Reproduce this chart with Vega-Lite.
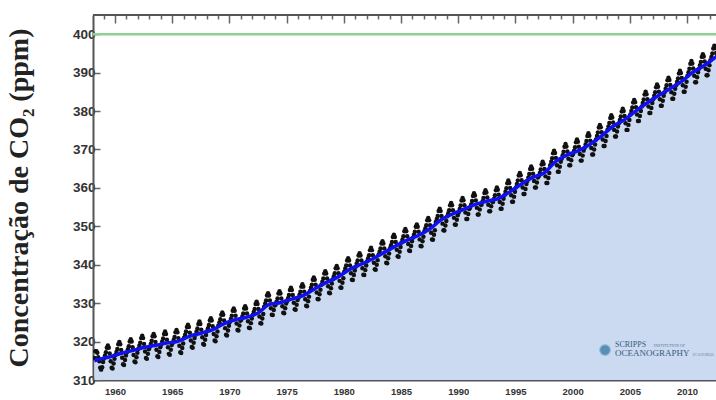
{
  "$schema": "https://vega.github.io/schema/vega-lite/v6.json",
  "width": 623,
  "height": 365,
  "autosize": {"type": "none"},
  "padding": {"left": 93, "top": 15, "right": 0, "bottom": 20},
  "background": "white",
  "config": {"view": {"stroke": null}},
  "data": {"values": [{}]},
  "datasets": {
    "trend": [
      {"t":1958.2,"v":315.0},{"t":1958.5,"v":315.3},{"t":1959.5,"v":315.98},{"t":1960.5,"v":316.91},{"t":1961.5,"v":317.64},{"t":1962.5,"v":318.45},{"t":1963.5,"v":318.99},{"t":1964.5,"v":319.62},{"t":1965.5,"v":320.04},{"t":1966.5,"v":321.37},{"t":1967.5,"v":322.18},{"t":1968.5,"v":323.05},{"t":1969.5,"v":324.62},{"t":1970.5,"v":325.68},{"t":1971.5,"v":326.32},{"t":1972.5,"v":327.46},{"t":1973.5,"v":329.68},{"t":1974.5,"v":330.19},{"t":1975.5,"v":331.13},{"t":1976.5,"v":332.03},{"t":1977.5,"v":333.84},{"t":1978.5,"v":335.41},{"t":1979.5,"v":336.84},{"t":1980.5,"v":338.76},{"t":1981.5,"v":340.12},{"t":1982.5,"v":341.48},{"t":1983.5,"v":343.15},{"t":1984.5,"v":344.85},{"t":1985.5,"v":346.35},{"t":1986.5,"v":347.61},{"t":1987.5,"v":349.31},{"t":1988.5,"v":351.69},{"t":1989.5,"v":353.2},{"t":1990.5,"v":354.45},{"t":1991.5,"v":355.7},{"t":1992.5,"v":356.54},{"t":1993.5,"v":357.21},{"t":1994.5,"v":358.96},{"t":1995.5,"v":360.97},{"t":1996.5,"v":362.74},{"t":1997.5,"v":363.88},{"t":1998.5,"v":366.84},{"t":1999.5,"v":368.54},{"t":2000.5,"v":369.71},{"t":2001.5,"v":371.32},{"t":2002.5,"v":373.45},{"t":2003.5,"v":375.98},{"t":2004.5,"v":377.7},{"t":2005.5,"v":379.98},{"t":2006.5,"v":382.09},{"t":2007.5,"v":384.02},{"t":2008.5,"v":385.83},{"t":2009.5,"v":387.64},{"t":2010.5,"v":390.1},{"t":2011.5,"v":391.85},{"t":2012.5,"v":394.06},{"t":2012.6,"v":394.3}
    ],
    "monthly": [
      {"t":1958.21,"v":315.7},{"t":1958.29,"v":317.5},{"t":1958.38,"v":317.5},{"t":1958.46,"v":317.1},{"t":1958.54,"v":315.9},{"t":1958.63,"v":314.9},{"t":1958.71,"v":313.2},{"t":1958.79,"v":312.7},{"t":1958.88,"v":313.3},{"t":1958.96,"v":314.7},
      {"t":1959.04,"v":315.6},{"t":1959.13,"v":316.4},{"t":1959.21,"v":317.2},{"t":1959.29,"v":318.4},{"t":1959.38,"v":319.0},{"t":1959.46,"v":318.4},{"t":1959.54,"v":316.9},{"t":1959.63,"v":314.9},{"t":1959.71,"v":313.2},{"t":1959.79,"v":313.0},{"t":1959.88,"v":314.3},{"t":1959.96,"v":315.5},
      {"t":1960.04,"v":316.5},{"t":1960.13,"v":317.3},{"t":1960.21,"v":318.1},{"t":1960.29,"v":319.3},{"t":1960.38,"v":319.9},{"t":1960.46,"v":319.3},{"t":1960.54,"v":317.8},{"t":1960.63,"v":315.8},{"t":1960.71,"v":314.1},{"t":1960.79,"v":313.9},{"t":1960.88,"v":315.2},{"t":1960.96,"v":316.4},
      {"t":1961.04,"v":317.2},{"t":1961.13,"v":318.0},{"t":1961.21,"v":318.8},{"t":1961.29,"v":320.0},{"t":1961.38,"v":320.6},{"t":1961.46,"v":320.0},{"t":1961.54,"v":318.5},{"t":1961.63,"v":316.5},{"t":1961.71,"v":314.8},{"t":1961.79,"v":314.6},{"t":1961.88,"v":315.9},{"t":1961.96,"v":317.1},
      {"t":1962.04,"v":318.1},{"t":1962.13,"v":318.9},{"t":1962.21,"v":319.7},{"t":1962.29,"v":320.9},{"t":1962.38,"v":321.5},{"t":1962.46,"v":320.9},{"t":1962.54,"v":319.4},{"t":1962.63,"v":317.4},{"t":1962.71,"v":315.7},{"t":1962.79,"v":315.5},{"t":1962.88,"v":316.8},{"t":1962.96,"v":318.0},
      {"t":1963.04,"v":318.6},{"t":1963.13,"v":319.4},{"t":1963.21,"v":320.2},{"t":1963.29,"v":321.4},{"t":1963.38,"v":322.0},{"t":1963.46,"v":321.4},{"t":1963.54,"v":319.9},{"t":1963.63,"v":317.9},{"t":1963.71,"v":316.2},{"t":1963.79,"v":316.0},{"t":1963.88,"v":317.3},{"t":1963.96,"v":318.5},
      {"t":1964.04,"v":319.2},{"t":1964.13,"v":320.0},{"t":1964.21,"v":320.8},{"t":1964.29,"v":322.0},{"t":1964.38,"v":322.6},{"t":1964.46,"v":322.0},{"t":1964.54,"v":320.5},{"t":1964.63,"v":318.5},{"t":1964.71,"v":316.8},{"t":1964.79,"v":316.6},{"t":1964.88,"v":317.9},{"t":1964.96,"v":319.1},
      {"t":1965.04,"v":319.6},{"t":1965.13,"v":320.4},{"t":1965.21,"v":321.2},{"t":1965.29,"v":322.4},{"t":1965.38,"v":323.0},{"t":1965.46,"v":322.4},{"t":1965.54,"v":320.9},{"t":1965.63,"v":318.9},{"t":1965.71,"v":317.2},{"t":1965.79,"v":317.0},{"t":1965.88,"v":318.3},{"t":1965.96,"v":319.5},
      {"t":1966.04,"v":321.0},{"t":1966.13,"v":321.8},{"t":1966.21,"v":322.6},{"t":1966.29,"v":323.8},{"t":1966.38,"v":324.4},{"t":1966.46,"v":323.8},{"t":1966.54,"v":322.3},{"t":1966.63,"v":320.3},{"t":1966.71,"v":318.6},{"t":1966.79,"v":318.4},{"t":1966.88,"v":319.7},{"t":1966.96,"v":320.9},
      {"t":1967.04,"v":321.8},{"t":1967.13,"v":322.6},{"t":1967.21,"v":323.4},{"t":1967.29,"v":324.6},{"t":1967.38,"v":325.2},{"t":1967.46,"v":324.6},{"t":1967.54,"v":323.1},{"t":1967.63,"v":321.1},{"t":1967.71,"v":319.4},{"t":1967.79,"v":319.2},{"t":1967.88,"v":320.5},{"t":1967.96,"v":321.7},
      {"t":1968.04,"v":322.7},{"t":1968.13,"v":323.5},{"t":1968.21,"v":324.3},{"t":1968.29,"v":325.5},{"t":1968.38,"v":326.1},{"t":1968.46,"v":325.5},{"t":1968.54,"v":324.0},{"t":1968.63,"v":322.0},{"t":1968.71,"v":320.3},{"t":1968.79,"v":320.1},{"t":1968.88,"v":321.4},{"t":1968.96,"v":322.6},
      {"t":1969.04,"v":324.2},{"t":1969.13,"v":325.0},{"t":1969.21,"v":325.8},{"t":1969.29,"v":327.0},{"t":1969.38,"v":327.6},{"t":1969.46,"v":327.0},{"t":1969.54,"v":325.5},{"t":1969.63,"v":323.5},{"t":1969.71,"v":321.8},{"t":1969.79,"v":321.6},{"t":1969.88,"v":322.9},{"t":1969.96,"v":324.1},
      {"t":1970.04,"v":325.1},{"t":1970.13,"v":325.9},{"t":1970.21,"v":326.7},{"t":1970.29,"v":328.0},{"t":1970.38,"v":328.6},{"t":1970.46,"v":328.0},{"t":1970.54,"v":326.7},{"t":1970.63,"v":324.7},{"t":1970.71,"v":323.0},{"t":1970.79,"v":322.9},{"t":1970.88,"v":324.2},{"t":1970.96,"v":325.4},
      {"t":1971.04,"v":325.7},{"t":1971.13,"v":326.5},{"t":1971.21,"v":327.3},{"t":1971.29,"v":328.6},{"t":1971.38,"v":329.2},{"t":1971.46,"v":328.6},{"t":1971.54,"v":327.3},{"t":1971.63,"v":325.3},{"t":1971.71,"v":323.6},{"t":1971.79,"v":323.5},{"t":1971.88,"v":324.8},{"t":1971.96,"v":326.0},
      {"t":1972.04,"v":326.9},{"t":1972.13,"v":327.7},{"t":1972.21,"v":328.5},{"t":1972.29,"v":329.8},{"t":1972.38,"v":330.4},{"t":1972.46,"v":329.8},{"t":1972.54,"v":328.5},{"t":1972.63,"v":326.5},{"t":1972.71,"v":324.8},{"t":1972.79,"v":324.7},{"t":1972.88,"v":326.0},{"t":1972.96,"v":327.2},
      {"t":1973.04,"v":329.1},{"t":1973.13,"v":329.9},{"t":1973.21,"v":330.7},{"t":1973.29,"v":332.0},{"t":1973.38,"v":332.6},{"t":1973.46,"v":332.0},{"t":1973.54,"v":330.7},{"t":1973.63,"v":328.7},{"t":1973.71,"v":327.0},{"t":1973.79,"v":326.9},{"t":1973.88,"v":328.2},{"t":1973.96,"v":329.4},
      {"t":1974.04,"v":329.6},{"t":1974.13,"v":330.4},{"t":1974.21,"v":331.2},{"t":1974.29,"v":332.5},{"t":1974.38,"v":333.1},{"t":1974.46,"v":332.5},{"t":1974.54,"v":331.2},{"t":1974.63,"v":329.2},{"t":1974.71,"v":327.5},{"t":1974.79,"v":327.4},{"t":1974.88,"v":328.7},{"t":1974.96,"v":329.9},
      {"t":1975.04,"v":330.5},{"t":1975.13,"v":331.3},{"t":1975.21,"v":332.1},{"t":1975.29,"v":333.4},{"t":1975.38,"v":334.0},{"t":1975.46,"v":333.4},{"t":1975.54,"v":332.1},{"t":1975.63,"v":330.1},{"t":1975.71,"v":328.4},{"t":1975.79,"v":328.3},{"t":1975.88,"v":329.6},{"t":1975.96,"v":330.8},
      {"t":1976.04,"v":331.4},{"t":1976.13,"v":332.2},{"t":1976.21,"v":333.0},{"t":1976.29,"v":334.3},{"t":1976.38,"v":334.9},{"t":1976.46,"v":334.3},{"t":1976.54,"v":333.0},{"t":1976.63,"v":331.0},{"t":1976.71,"v":329.3},{"t":1976.79,"v":329.2},{"t":1976.88,"v":330.5},{"t":1976.96,"v":331.7},
      {"t":1977.04,"v":333.2},{"t":1977.13,"v":334.0},{"t":1977.21,"v":334.8},{"t":1977.29,"v":336.1},{"t":1977.38,"v":336.7},{"t":1977.46,"v":336.1},{"t":1977.54,"v":334.8},{"t":1977.63,"v":332.8},{"t":1977.71,"v":331.1},{"t":1977.79,"v":331.0},{"t":1977.88,"v":332.3},{"t":1977.96,"v":333.5},
      {"t":1978.04,"v":334.8},{"t":1978.13,"v":335.6},{"t":1978.21,"v":336.4},{"t":1978.29,"v":337.7},{"t":1978.38,"v":338.3},{"t":1978.46,"v":337.7},{"t":1978.54,"v":336.4},{"t":1978.63,"v":334.4},{"t":1978.71,"v":332.7},{"t":1978.79,"v":332.6},{"t":1978.88,"v":333.9},{"t":1978.96,"v":335.1},
      {"t":1979.04,"v":336.2},{"t":1979.13,"v":337.0},{"t":1979.21,"v":337.8},{"t":1979.29,"v":339.1},{"t":1979.38,"v":339.7},{"t":1979.46,"v":339.1},{"t":1979.54,"v":337.8},{"t":1979.63,"v":335.8},{"t":1979.71,"v":334.1},{"t":1979.79,"v":334.0},{"t":1979.88,"v":335.3},{"t":1979.96,"v":336.5},
      {"t":1980.04,"v":338.2},{"t":1980.13,"v":339.0},{"t":1980.21,"v":339.8},{"t":1980.29,"v":341.1},{"t":1980.38,"v":341.7},{"t":1980.46,"v":341.1},{"t":1980.54,"v":339.8},{"t":1980.63,"v":337.8},{"t":1980.71,"v":336.1},{"t":1980.79,"v":336.0},{"t":1980.88,"v":337.3},{"t":1980.96,"v":338.5},
      {"t":1981.04,"v":339.5},{"t":1981.13,"v":340.3},{"t":1981.21,"v":341.1},{"t":1981.29,"v":342.4},{"t":1981.38,"v":343.0},{"t":1981.46,"v":342.4},{"t":1981.54,"v":341.1},{"t":1981.63,"v":339.1},{"t":1981.71,"v":337.4},{"t":1981.79,"v":337.3},{"t":1981.88,"v":338.6},{"t":1981.96,"v":339.8},
      {"t":1982.04,"v":340.9},{"t":1982.13,"v":341.7},{"t":1982.21,"v":342.5},{"t":1982.29,"v":343.8},{"t":1982.38,"v":344.4},{"t":1982.46,"v":343.8},{"t":1982.54,"v":342.5},{"t":1982.63,"v":340.5},{"t":1982.71,"v":338.8},{"t":1982.79,"v":338.7},{"t":1982.88,"v":340.0},{"t":1982.96,"v":341.2},
      {"t":1983.04,"v":342.6},{"t":1983.13,"v":343.4},{"t":1983.21,"v":344.2},{"t":1983.29,"v":345.5},{"t":1983.38,"v":346.1},{"t":1983.46,"v":345.5},{"t":1983.54,"v":344.2},{"t":1983.63,"v":342.2},{"t":1983.71,"v":340.5},{"t":1983.79,"v":340.4},{"t":1983.88,"v":341.7},{"t":1983.96,"v":342.9},
      {"t":1984.04,"v":344.3},{"t":1984.13,"v":345.1},{"t":1984.21,"v":345.9},{"t":1984.29,"v":347.2},{"t":1984.38,"v":347.8},{"t":1984.46,"v":347.2},{"t":1984.54,"v":345.9},{"t":1984.63,"v":343.9},{"t":1984.71,"v":342.2},{"t":1984.79,"v":342.1},{"t":1984.88,"v":343.4},{"t":1984.96,"v":344.6},
      {"t":1985.04,"v":345.8},{"t":1985.13,"v":346.6},{"t":1985.21,"v":347.4},{"t":1985.29,"v":348.7},{"t":1985.38,"v":349.3},{"t":1985.46,"v":348.7},{"t":1985.54,"v":347.4},{"t":1985.63,"v":345.4},{"t":1985.71,"v":343.7},{"t":1985.79,"v":343.6},{"t":1985.88,"v":344.9},{"t":1985.96,"v":346.1},
      {"t":1986.04,"v":347.0},{"t":1986.13,"v":347.8},{"t":1986.21,"v":348.6},{"t":1986.29,"v":349.9},{"t":1986.38,"v":350.5},{"t":1986.46,"v":349.9},{"t":1986.54,"v":348.6},{"t":1986.63,"v":346.6},{"t":1986.71,"v":344.9},{"t":1986.79,"v":344.8},{"t":1986.88,"v":346.1},{"t":1986.96,"v":347.3},
      {"t":1987.04,"v":348.7},{"t":1987.13,"v":349.5},{"t":1987.21,"v":350.3},{"t":1987.29,"v":351.6},{"t":1987.38,"v":352.2},{"t":1987.46,"v":351.6},{"t":1987.54,"v":350.3},{"t":1987.63,"v":348.3},{"t":1987.71,"v":346.6},{"t":1987.79,"v":346.5},{"t":1987.88,"v":347.8},{"t":1987.96,"v":349.0},
      {"t":1988.04,"v":351.1},{"t":1988.13,"v":351.9},{"t":1988.21,"v":352.7},{"t":1988.29,"v":354.0},{"t":1988.38,"v":354.6},{"t":1988.46,"v":354.0},{"t":1988.54,"v":352.7},{"t":1988.63,"v":350.7},{"t":1988.71,"v":349.0},{"t":1988.79,"v":348.9},{"t":1988.88,"v":350.2},{"t":1988.96,"v":351.4},
      {"t":1989.04,"v":352.6},{"t":1989.13,"v":353.4},{"t":1989.21,"v":354.2},{"t":1989.29,"v":355.5},{"t":1989.38,"v":356.1},{"t":1989.46,"v":355.5},{"t":1989.54,"v":354.2},{"t":1989.63,"v":352.2},{"t":1989.71,"v":350.5},{"t":1989.79,"v":350.4},{"t":1989.88,"v":351.7},{"t":1989.96,"v":352.9},
      {"t":1990.04,"v":353.6},{"t":1990.13,"v":354.5},{"t":1990.21,"v":355.4},{"t":1990.29,"v":356.7},{"t":1990.38,"v":357.4},{"t":1990.46,"v":356.8},{"t":1990.54,"v":355.5},{"t":1990.63,"v":353.6},{"t":1990.71,"v":351.9},{"t":1990.79,"v":351.9},{"t":1990.88,"v":353.2},{"t":1990.96,"v":354.5},
      {"t":1991.04,"v":354.8},{"t":1991.13,"v":355.7},{"t":1991.21,"v":356.6},{"t":1991.29,"v":357.9},{"t":1991.38,"v":358.6},{"t":1991.46,"v":358.0},{"t":1991.54,"v":356.7},{"t":1991.63,"v":354.8},{"t":1991.71,"v":353.1},{"t":1991.79,"v":353.1},{"t":1991.88,"v":354.4},{"t":1991.96,"v":355.7},
      {"t":1992.04,"v":355.6},{"t":1992.13,"v":356.5},{"t":1992.21,"v":357.4},{"t":1992.29,"v":358.7},{"t":1992.38,"v":359.4},{"t":1992.46,"v":358.8},{"t":1992.54,"v":357.5},{"t":1992.63,"v":355.6},{"t":1992.71,"v":353.9},{"t":1992.79,"v":353.9},{"t":1992.88,"v":355.2},{"t":1992.96,"v":356.5},
      {"t":1993.04,"v":356.3},{"t":1993.13,"v":357.2},{"t":1993.21,"v":358.1},{"t":1993.29,"v":359.4},{"t":1993.38,"v":360.1},{"t":1993.46,"v":359.5},{"t":1993.54,"v":358.2},{"t":1993.63,"v":356.3},{"t":1993.71,"v":354.6},{"t":1993.79,"v":354.6},{"t":1993.88,"v":355.9},{"t":1993.96,"v":357.2},
      {"t":1994.04,"v":358.1},{"t":1994.13,"v":359.0},{"t":1994.21,"v":359.9},{"t":1994.29,"v":361.2},{"t":1994.38,"v":361.9},{"t":1994.46,"v":361.3},{"t":1994.54,"v":360.0},{"t":1994.63,"v":358.1},{"t":1994.71,"v":356.4},{"t":1994.79,"v":356.4},{"t":1994.88,"v":357.7},{"t":1994.96,"v":359.0},
      {"t":1995.04,"v":360.1},{"t":1995.13,"v":361.0},{"t":1995.21,"v":361.9},{"t":1995.29,"v":363.2},{"t":1995.38,"v":363.9},{"t":1995.46,"v":363.3},{"t":1995.54,"v":362.0},{"t":1995.63,"v":360.1},{"t":1995.71,"v":358.4},{"t":1995.79,"v":358.4},{"t":1995.88,"v":359.7},{"t":1995.96,"v":361.0},
      {"t":1996.04,"v":361.8},{"t":1996.13,"v":362.7},{"t":1996.21,"v":363.6},{"t":1996.29,"v":364.9},{"t":1996.38,"v":365.6},{"t":1996.46,"v":365.0},{"t":1996.54,"v":363.7},{"t":1996.63,"v":361.8},{"t":1996.71,"v":360.1},{"t":1996.79,"v":360.1},{"t":1996.88,"v":361.4},{"t":1996.96,"v":362.7},
      {"t":1997.04,"v":363.0},{"t":1997.13,"v":363.9},{"t":1997.21,"v":364.8},{"t":1997.29,"v":366.1},{"t":1997.38,"v":366.8},{"t":1997.46,"v":366.2},{"t":1997.54,"v":364.9},{"t":1997.63,"v":363.0},{"t":1997.71,"v":361.3},{"t":1997.79,"v":361.3},{"t":1997.88,"v":362.6},{"t":1997.96,"v":363.9},
      {"t":1998.04,"v":365.9},{"t":1998.13,"v":366.8},{"t":1998.21,"v":367.7},{"t":1998.29,"v":369.0},{"t":1998.38,"v":369.7},{"t":1998.46,"v":369.1},{"t":1998.54,"v":367.8},{"t":1998.63,"v":365.9},{"t":1998.71,"v":364.2},{"t":1998.79,"v":364.2},{"t":1998.88,"v":365.5},{"t":1998.96,"v":366.8},
      {"t":1999.04,"v":367.6},{"t":1999.13,"v":368.5},{"t":1999.21,"v":369.4},{"t":1999.29,"v":370.7},{"t":1999.38,"v":371.4},{"t":1999.46,"v":370.8},{"t":1999.54,"v":369.5},{"t":1999.63,"v":367.6},{"t":1999.71,"v":365.9},{"t":1999.79,"v":365.9},{"t":1999.88,"v":367.2},{"t":1999.96,"v":368.5},
      {"t":2000.04,"v":368.8},{"t":2000.13,"v":369.7},{"t":2000.21,"v":370.6},{"t":2000.29,"v":371.9},{"t":2000.38,"v":372.6},{"t":2000.46,"v":372.0},{"t":2000.54,"v":370.7},{"t":2000.63,"v":368.8},{"t":2000.71,"v":367.1},{"t":2000.79,"v":367.1},{"t":2000.88,"v":368.4},{"t":2000.96,"v":369.7},
      {"t":2001.04,"v":370.4},{"t":2001.13,"v":371.3},{"t":2001.21,"v":372.2},{"t":2001.29,"v":373.5},{"t":2001.38,"v":374.2},{"t":2001.46,"v":373.6},{"t":2001.54,"v":372.3},{"t":2001.63,"v":370.4},{"t":2001.71,"v":368.7},{"t":2001.79,"v":368.7},{"t":2001.88,"v":370.0},{"t":2001.96,"v":371.3},
      {"t":2002.04,"v":372.6},{"t":2002.13,"v":373.5},{"t":2002.21,"v":374.4},{"t":2002.29,"v":375.7},{"t":2002.38,"v":376.4},{"t":2002.46,"v":375.8},{"t":2002.54,"v":374.5},{"t":2002.63,"v":372.6},{"t":2002.71,"v":370.9},{"t":2002.79,"v":370.9},{"t":2002.88,"v":372.2},{"t":2002.96,"v":373.5},
      {"t":2003.04,"v":375.1},{"t":2003.13,"v":376.0},{"t":2003.21,"v":376.9},{"t":2003.29,"v":378.2},{"t":2003.38,"v":378.9},{"t":2003.46,"v":378.3},{"t":2003.54,"v":377.0},{"t":2003.63,"v":375.1},{"t":2003.71,"v":373.4},{"t":2003.79,"v":373.4},{"t":2003.88,"v":374.7},{"t":2003.96,"v":376.0},
      {"t":2004.04,"v":376.8},{"t":2004.13,"v":377.7},{"t":2004.21,"v":378.6},{"t":2004.29,"v":379.9},{"t":2004.38,"v":380.6},{"t":2004.46,"v":380.0},{"t":2004.54,"v":378.7},{"t":2004.63,"v":376.8},{"t":2004.71,"v":375.1},{"t":2004.79,"v":375.1},{"t":2004.88,"v":376.4},{"t":2004.96,"v":377.7},
      {"t":2005.04,"v":379.1},{"t":2005.13,"v":380.0},{"t":2005.21,"v":380.9},{"t":2005.29,"v":382.2},{"t":2005.38,"v":382.9},{"t":2005.46,"v":382.3},{"t":2005.54,"v":381.0},{"t":2005.63,"v":379.1},{"t":2005.71,"v":377.4},{"t":2005.79,"v":377.4},{"t":2005.88,"v":378.7},{"t":2005.96,"v":380.0},
      {"t":2006.04,"v":381.2},{"t":2006.13,"v":382.1},{"t":2006.21,"v":383.0},{"t":2006.29,"v":384.3},{"t":2006.38,"v":385.0},{"t":2006.46,"v":384.4},{"t":2006.54,"v":383.1},{"t":2006.63,"v":381.2},{"t":2006.71,"v":379.5},{"t":2006.79,"v":379.5},{"t":2006.88,"v":380.8},{"t":2006.96,"v":382.1},
      {"t":2007.04,"v":383.1},{"t":2007.13,"v":384.0},{"t":2007.21,"v":384.9},{"t":2007.29,"v":386.2},{"t":2007.38,"v":386.9},{"t":2007.46,"v":386.3},{"t":2007.54,"v":385.0},{"t":2007.63,"v":383.1},{"t":2007.71,"v":381.4},{"t":2007.79,"v":381.4},{"t":2007.88,"v":382.7},{"t":2007.96,"v":384.0},
      {"t":2008.04,"v":384.9},{"t":2008.13,"v":385.8},{"t":2008.21,"v":386.7},{"t":2008.29,"v":388.0},{"t":2008.38,"v":388.7},{"t":2008.46,"v":388.1},{"t":2008.54,"v":386.8},{"t":2008.63,"v":384.9},{"t":2008.71,"v":383.2},{"t":2008.79,"v":383.2},{"t":2008.88,"v":384.5},{"t":2008.96,"v":385.8},
      {"t":2009.04,"v":386.7},{"t":2009.13,"v":387.6},{"t":2009.21,"v":388.5},{"t":2009.29,"v":389.8},{"t":2009.38,"v":390.5},{"t":2009.46,"v":389.9},{"t":2009.54,"v":388.6},{"t":2009.63,"v":386.7},{"t":2009.71,"v":385.0},{"t":2009.79,"v":385.0},{"t":2009.88,"v":386.3},{"t":2009.96,"v":387.6},
      {"t":2010.04,"v":389.2},{"t":2010.13,"v":390.1},{"t":2010.21,"v":391.0},{"t":2010.29,"v":392.3},{"t":2010.38,"v":393.0},{"t":2010.46,"v":392.4},{"t":2010.54,"v":391.1},{"t":2010.63,"v":389.2},{"t":2010.71,"v":387.5},{"t":2010.79,"v":387.5},{"t":2010.88,"v":388.8},{"t":2010.96,"v":390.1},
      {"t":2011.04,"v":391.0},{"t":2011.13,"v":391.9},{"t":2011.21,"v":392.8},{"t":2011.29,"v":394.1},{"t":2011.38,"v":394.8},{"t":2011.46,"v":394.2},{"t":2011.54,"v":392.9},{"t":2011.63,"v":391.0},{"t":2011.71,"v":389.3},{"t":2011.79,"v":389.3},{"t":2011.88,"v":390.6},{"t":2011.96,"v":391.9},
      {"t":2012.04,"v":393.2},{"t":2012.13,"v":394.1},{"t":2012.21,"v":395.0},{"t":2012.29,"v":396.3},{"t":2012.38,"v":397.0},{"t":2012.46,"v":396.4},{"t":2012.54,"v":395.1}
    ]
  },
  "layer": [
    {
      "data": {"name": "trend"},
      "mark": {"type": "area", "color": "#cbdaf0", "clip": true},
      "encoding": {
        "x": {"field": "t", "type": "quantitative", "scale": {"domain": [1958.08, 2012.53], "nice": false, "zero": false},
          "axis": {"orient": "bottom", "title": null, "values": [1959,1960,1961,1962,1963,1964,1965,1966,1967,1968,1969,1970,1971,1972,1973,1974,1975,1976,1977,1978,1979,1980,1981,1982,1983,1984,1985,1986,1987,1988,1989,1990,1991,1992,1993,1994,1995,1996,1997,1998,1999,2000,2001,2002,2003,2004,2005,2006,2007,2008,2009,2010,2011,2012],
            "format": "d", "labelExpr": "datum.value % 5 === 0 ? datum.label : ''",
            "grid": false, "domainColor": "#555555", "domainWidth": 2, "tickColor": "#666666", "tickWidth": 1.5,
            "tickSize": {"condition": {"test": "datum.value % 5 === 0", "value": -8}, "value": -4},
            "labelFont": "Liberation Sans", "labelFontSize": 9.5, "labelFontWeight": "bold", "labelColor": "#333333", "labelPadding": 14, "labelFlush": false, "labelOverlap": false}},
        "y": {"field": "v", "type": "quantitative", "scale": {"domain": [310, 405], "nice": false, "zero": false},
          "axis": {"title": "Concentração de CO₂ (ppm)", "titleFont": "Liberation Serif", "titleFontSize": 28, "titleFontWeight": "bold", "titleColor": "#222222", "titlePadding": 39,
            "values": [310,315,320,325,330,335,340,345,350,355,360,365,370,375,380,385,390,395,400],
            "labelExpr": "datum.value % 10 === 0 ? datum.label : ''",
            "grid": false, "domainColor": "#555555", "domainWidth": 2, "tickColor": "#666666", "tickWidth": 1.5,
            "tickSize": {"condition": {"test": "datum.value % 10 === 0", "value": -7}, "value": -4},
            "labelFont": "Liberation Sans", "labelFontSize": 13.5, "labelFontWeight": "bold", "labelColor": "#333333", "labelPadding": 5, "labelOverlap": false}},
        "y2": {"datum": 310}
      }
    },
    {
      "mark": {"type": "rule", "color": "#8fd18f", "strokeWidth": 2.5},
      "encoding": {"y": {"datum": 400}}
    },
    {
      "mark": {"type": "rule", "color": "#555555", "strokeWidth": 2},
      "encoding": {"y": {"datum": 405}}
    },
    {
      "data": {"name": "monthly"},
      "mark": {"type": "point", "filled": true, "color": "#111111", "size": 20, "opacity": 1, "clip": true},
      "encoding": {
        "x": {"field": "t", "type": "quantitative", "axis": null},
        "y": {"field": "v", "type": "quantitative"}
      }
    },
    {
      "data": {"name": "trend"},
      "mark": {"type": "line", "color": "#1010f0", "strokeWidth": 3.5, "interpolate": "monotone", "clip": true},
      "encoding": {
        "x": {"field": "t", "type": "quantitative",
          "axis": {"orient": "top", "title": null, "labels": false, "domain": false, "offset": -8, "values": [1959,1960,1961,1962,1963,1964,1965,1966,1967,1968,1969,1970,1971,1972,1973,1974,1975,1976,1977,1978,1979,1980,1981,1982,1983,1984,1985,1986,1987,1988,1989,1990,1991,1992,1993,1994,1995,1996,1997,1998,1999,2000,2001,2002,2003,2004,2005,2006,2007,2008,2009,2010,2011,2012],
            "grid": false, "tickColor": "#666666", "tickWidth": 1.5,
            "tickSize": 8,
            "tickDash": {"condition": {"test": "datum.value % 5 === 0", "value": [20, 1]}, "value": [0, 4, 4]}}},
        "y": {"field": "v", "type": "quantitative"}
      }
    },
    {
      "mark": {"type": "point", "filled": true, "color": "#2a6f9e", "stroke": "#8ab8d8", "strokeWidth": 1.2, "size": 120},
      "encoding": {"x": {"datum": 2002.83, "axis": null}, "y": {"datum": 317.8}}
    },
    {
      "mark": {"type": "text", "text": "SCRIPPS", "font": "Liberation Serif", "fontSize": 8, "color": "#3a5a80", "align": "left", "baseline": "middle"},
      "encoding": {"x": {"datum": 2003.7, "axis": null}, "y": {"datum": 319.0}}
    },
    {
      "mark": {"type": "text", "text": "INSTITUTION OF", "font": "Liberation Serif", "fontSize": 4, "color": "#5a7896", "align": "left", "baseline": "middle"},
      "encoding": {"x": {"datum": 2007.1, "axis": null}, "y": {"datum": 318.9}}
    },
    {
      "mark": {"type": "text", "text": "OCEANOGRAPHY", "font": "Liberation Serif", "fontSize": 9, "color": "#3a5a80", "align": "left", "baseline": "middle"},
      "encoding": {"x": {"datum": 2003.7, "axis": null}, "y": {"datum": 316.9}}
    },
    {
      "mark": {"type": "text", "text": "UC SAN DIEGO", "font": "Liberation Serif", "fontSize": 3, "color": "#5a7896", "align": "left", "baseline": "middle"},
      "encoding": {"x": {"datum": 2010.5, "axis": null}, "y": {"datum": 316.6}}
    }
  ],
  "resolve": {"axis": {"x": "independent"}}
}
